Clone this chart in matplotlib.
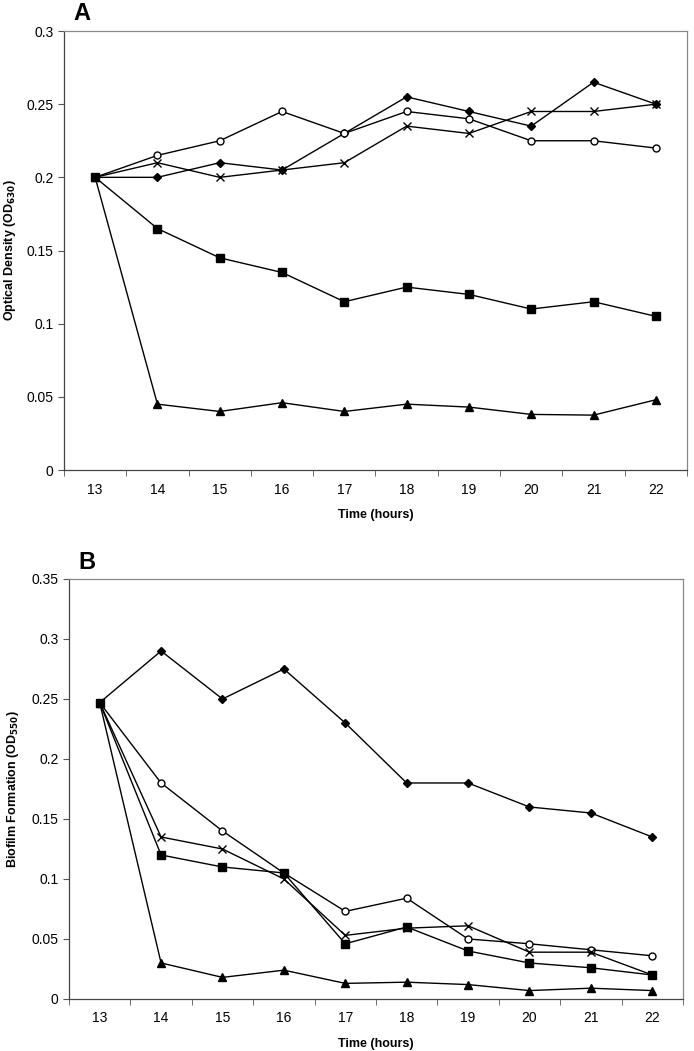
import matplotlib
matplotlib.use("Agg")
import matplotlib.pyplot as plt
import numpy as np

plt.rcParams['font.family'] = ['Liberation Sans', 'DejaVu Sans']

hours = [13, 14, 15, 16, 17, 18, 19, 20, 21, 22]

# panel A - optical density
od_diamond = [0.2, 0.2, 0.21, 0.205, 0.23, 0.255, 0.245, 0.235, 0.265, 0.25]
od_square = [0.2, 0.165, 0.145, 0.135, 0.115, 0.125, 0.12, 0.11, 0.115, 0.105]
od_triangle = [0.2, 0.045, 0.04, 0.046, 0.04, 0.045, 0.043, 0.038, 0.0375, 0.048]
od_cross = [0.2, 0.21, 0.2, 0.205, 0.21, 0.235, 0.23, 0.245, 0.245, 0.25]
od_circle = [0.2, 0.215, 0.225, 0.245, 0.23, 0.245, 0.24, 0.225, 0.225, 0.22]

# panel B - biofilm formation
bf_diamond = [0.247, 0.29, 0.25, 0.275, 0.23, 0.18, 0.18, 0.16, 0.155, 0.135]
bf_square = [0.247, 0.12, 0.11, 0.105, 0.046, 0.06, 0.04, 0.03, 0.026, 0.02]
bf_triangle = [0.247, 0.03, 0.018, 0.024, 0.013, 0.014, 0.012, 0.007, 0.009, 0.007]
bf_cross = [0.247, 0.135, 0.125, 0.1, 0.053, 0.059, 0.061, 0.039, 0.039, 0.02]
bf_circle = [0.247, 0.18, 0.14, 0.105, 0.073, 0.084, 0.05, 0.046, 0.041, 0.036]


def draw_panel(ax, series, ymax, ylabel, letter, ylab_x):
    for vals, mk, ms, face in series:
        # squares sit on top where the series meet at the first time point
        z = 3 if mk == 's' else 2
        ax.plot(hours, vals, color='black', lw=1.0, marker=mk, ms=ms,
                mfc=face, mec='black', mew=1.0, zorder=z)
    ax.set_xlim(12.5, 22.5)
    ax.set_ylim(0, ymax)
    ax.set_xticks(hours)
    ax.set_xticks(np.arange(12.5, 23, 1), minor=True)
    ax.tick_params(axis='x', which='major', length=0, pad=9, labelsize=10)
    ax.tick_params(axis='x', which='minor', length=4, direction='out', color='#555555')
    yt = np.arange(0, ymax + 0.001, 0.05)
    ax.set_yticks(yt)
    ax.set_yticklabels(['0' if v == 0 else ('%g' % round(v, 2)) for v in yt])
    ax.tick_params(axis='y', length=4, direction='out', labelsize=10, color='#555555')
    for s in ['top', 'right']:
        ax.spines[s].set_color('#888888')
    for s in ['left', 'bottom']:
        ax.spines[s].set_color('#444444')
    for s in ax.spines.values():
        s.set_linewidth(0.9)
    ax.set_xlabel('Time (hours)', fontsize=9, fontweight='bold', labelpad=9)
    ax.set_ylabel(ylabel, fontsize=9, fontweight='bold')
    ax.yaxis.set_label_coords(ylab_x, 0.5)
    ax.text(0.015, 1.04, letter, transform=ax.transAxes, fontsize=17,
            fontweight='bold', ha='left', va='center')


fig = plt.figure(figsize=(6.94, 10.51), dpi=100)
ax1 = fig.add_axes([0.0922, 0.5528, 0.8977, 0.4177])
ax2 = fig.add_axes([0.0994, 0.0495, 0.8847, 0.3996])

draw_panel(ax1, [(od_diamond, 'D', 4, 'black'),
                 (od_square, 's', 5.5, 'black'),
                 (od_triangle, '^', 5.5, 'black'),
                 (od_cross, 'x', 5.5, 'black'),
                 (od_circle, 'o', 5, 'white')],
           0.3, r'Optical Density (OD$_{\mathbf{630}}$)', 'A', -0.074)

draw_panel(ax2, [(bf_diamond, 'D', 4, 'black'),
                 (bf_circle, 'o', 5, 'white'),
                 (bf_cross, 'x', 5.5, 'black'),
                 (bf_square, 's', 5.5, 'black'),
                 (bf_triangle, '^', 5.5, 'black')],
           0.35, r'Biofilm Formation (OD$_{\mathbf{550}}$)', 'B', -0.078)

fig.savefig('out.png', dpi=100)
